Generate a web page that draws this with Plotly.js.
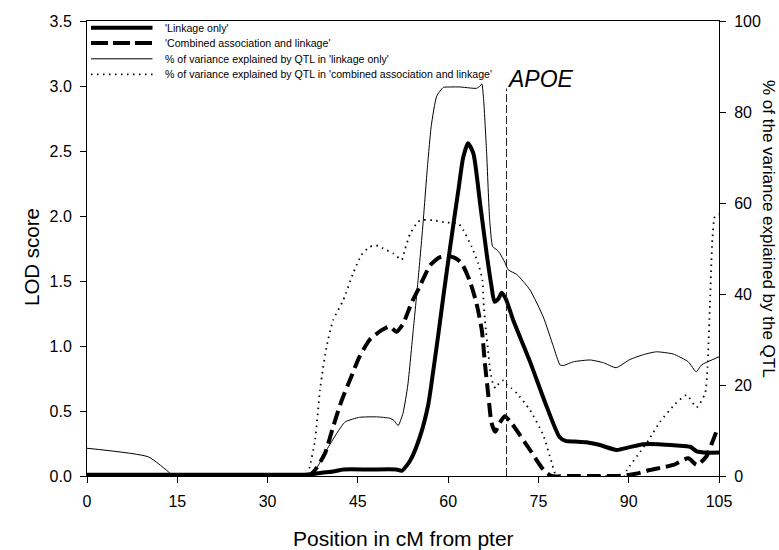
<!DOCTYPE html>
<html>
<head>
<meta charset="utf-8">
<script src="https://cdn.plot.ly/plotly-3.0.1.min.js"></script>
<style>html,body{margin:0;padding:0;background:#fff;}#chart{width:779px;height:550px;}</style>
</head>
<body>
<div id="chart"></div>
<script>
// ---- data ----
const linkPos = [0, 10, 20, 30, 36, 37.6, 39, 40.9, 42.6, 47, 51.4, 52.3, 53.7, 55.3, 56.7, 57.5, 58.4, 59.2, 60.3, 61.7, 62.5, 63.3, 64.2, 65.3, 66.4, 67.2, 67.7, 68.3, 68.9, 69.6, 70.8, 73.6, 76.4, 78.5, 79.5, 81, 83, 85.2, 88, 90, 92.4, 95, 98, 100.2, 101.3, 103, 105];
const linkLod = [0.01, 0.01, 0.01, 0.01, 0.01, 0.015, 0.025, 0.035, 0.05, 0.05, 0.05, 0.04, 0.12, 0.30, 0.55, 0.8, 1.1, 1.38, 1.75, 2.2, 2.45, 2.56, 2.48, 2.10, 1.71, 1.46, 1.34, 1.36, 1.41, 1.36, 1.2, 0.88, 0.53, 0.3, 0.27, 0.265, 0.26, 0.238, 0.2, 0.22, 0.244, 0.245, 0.235, 0.225, 0.19, 0.18, 0.18];

const combPos = [0, 20, 36.5, 37.6, 39.5, 40.9, 42.3, 43.7, 45.3, 47.0, 48.9, 50.3, 51.4, 52.5, 53.9, 55.3, 57.0, 58.5, 59.8, 61, 62.2, 63.6, 64.7, 65.6, 66.1, 66.7, 67.2, 67.8, 68.6, 69.4, 70.3, 71.4, 73.6, 75.8, 77.2, 80, 85, 88, 89.5, 91.5, 93.5, 95.5, 97.4, 99.9, 101.3, 102.9, 103.8, 104.8];
const combLod = [0, 0, 0, 0.03, 0.17, 0.38, 0.58, 0.74, 0.92, 1.05, 1.12, 1.15, 1.11, 1.17, 1.33, 1.46, 1.62, 1.68, 1.69, 1.68, 1.64, 1.50, 1.33, 1.12, 0.87, 0.61, 0.41, 0.34, 0.41, 0.46, 0.42, 0.35, 0.2, 0.05, 0.0, 0, 0, 0, 0.005, 0.02, 0.046, 0.065, 0.085, 0.136, 0.085, 0.15, 0.25, 0.37];

const varLinkPos = [0, 10.2, 13.8, 14.2, 30, 37, 37.6, 38.5, 39.8, 41.5, 42.9, 45.3, 48.1, 50.3, 51.0, 51.7, 52.5, 53.3, 54.2, 55.0, 55.8, 56.5, 57.2, 58.1, 59.2, 60.5, 62, 63.5, 64.7, 65.3, 65.6, 65.9, 66.4, 66.9, 67.4, 68.1, 68.6, 69.4, 70.0, 71.4, 73.6, 75.8, 77.5, 78.6, 79.2, 80.8, 83.6, 85.8, 87.9, 90.2, 92.5, 94.6, 97.4, 99.9, 101.2, 102.1, 105];
const varLinkPct = [6.1, 4.2, 0.6, 0, 0, 0, 0.7, 2.5, 5.7, 9.4, 11.9, 12.9, 13.0, 12.7, 12.2, 11.1, 13.8, 20, 32, 43, 55, 67, 77, 83.5, 85.4, 85.5, 85.5, 85.3, 85.2, 85.7, 86.2, 82.6, 70.9, 56.3, 50.4, 49.7, 48.9, 47, 45.3, 44.3, 40.9, 35, 28.4, 24.4, 24.3, 25.1, 25.5, 24.9, 23.8, 25.6, 26.7, 27.3, 26.8, 25.1, 22.9, 24.4, 26.2];

const varCombPos = [0, 20, 36.5, 37.0, 37.9, 38.7, 39.0, 39.8, 40.9, 42.6, 44.2, 45.6, 47.0, 48.4, 49.2, 50.9, 52.3, 52.8, 53.7, 55.0, 55.9, 57.5, 59.8, 61.7, 62.5, 63.9, 65.0, 65.7, 65.9, 66.2, 66.6, 67.0, 67.5, 67.9, 68.5, 69.2, 69.8, 70.5, 71.4, 73.6, 75.8, 77.2, 78.0, 85, 89.3, 89.7, 91.9, 93.3, 95.2, 97.7, 99.6, 101.3, 102.7, 103.1, 103.5, 103.9, 104.3, 105];
const varCombPct = [0, 0, 0, 2, 7.9, 18.9, 21.8, 28.4, 34.3, 38.7, 44.5, 48.6, 50.4, 50.6, 50, 48.9, 47.5, 49.7, 53.3, 55.9, 56.3, 56.2, 55.7, 55.5, 54.1, 50.4, 46.7, 43, 38, 33, 28, 23, 20, 19.3, 20.5, 21, 20, 19.3, 18.2, 14.5, 9, 3, 0, 0, 0, 1.3, 5.3, 7.9, 11.9, 15.8, 17.8, 15.1, 18.2, 24, 38, 52, 57, 57.5];

const apoePos = [69.7, 69.7];
const apoeLod = [0, 2.98];
const apoeLabel = 'APOE';

const xTicks = [0, 15, 30, 45, 60, 75, 90, 105];
const yTicks = [0, 0.5, 1.0, 1.5, 2.0, 2.5, 3.0, 3.5];
const y2Ticks = [0, 20, 40, 60, 80, 100];

const seriesNames = [
  "'Linkage only'",
  "'Combined association and linkage'",
  "% of variance explained by QTL in 'linkage only'",
  "% of variance explained by QTL in 'combined association and linkage'"
];
const xTitle = 'Position in cM from pter';
const yTitle = 'LOD score';
const y2Title = '% of the variance explained by the QTL';

// ---- styles ----
const FONT = 'Liberation Sans, Arial, Helvetica, sans-serif';
const styles = [
  {width: 4, dash: 'solid', smooth: 0.6},
  {width: 4, dash: '14px,6px', smooth: 0.6},
  {width: 1, dash: 'solid', smooth: 0.5},
  {width: 1.8, dash: '1.5px,4.5px', smooth: 0.5}
];

const traces = [
  {x: linkPos, y: linkLod, yaxis: 'y', name: seriesNames[0]},
  {x: combPos, y: combLod, yaxis: 'y', name: seriesNames[1]},
  {x: varLinkPos, y: varLinkPct, yaxis: 'y2', name: seriesNames[2]},
  {x: varCombPos, y: varCombPct, yaxis: 'y2', name: seriesNames[3]}
].map((t, i) => Object.assign(t, {
  type: 'scatter', mode: 'lines', showlegend: false, hoverinfo: 'skip',
  line: {color: '#000', width: styles[i].width, dash: styles[i].dash, shape: 'spline', smoothing: styles[i].smooth}
}));

traces.push({
  type: 'scatter', mode: 'lines', x: apoePos, y: apoeLod, yaxis: 'y',
  showlegend: false, hoverinfo: 'skip',
  line: {color: '#222', width: 1, dash: '8px,3px'}
});

// manual legend (paper coordinates inside the plot, top-left)
const legendRowsPx = [27.8, 43, 58.8, 74.3];
const plotTop = 21, plotH = 455, plotL = 87, plotW = 632;
const px2py = (py) => (plotTop + plotH - py) / plotH;
const px2px = (px) => (px - plotL) / plotW;
const shapes = [];
const annotations = [];
legendRowsPx.forEach((py, i) => {
  shapes.push({type: 'line', xref: 'paper', yref: 'paper',
    x0: px2px(91), x1: px2px(152.5), y0: px2py(py), y1: px2py(py),
    line: {color: '#000', width: styles[i].width, dash: i === 1 ? '17px,5px' : styles[i].dash}});
  annotations.push({xref: 'paper', yref: 'paper', x: px2px(163), y: px2py(py),
    xanchor: 'left', yanchor: 'middle', showarrow: false, text: seriesNames[i],
    font: {family: FONT, size: 10.6, color: '#000'}});
});

annotations.push({xref: 'x', yref: 'y', x: apoePos[1], y: apoeLod[1], xanchor: 'left', yanchor: 'bottom',
  showarrow: false, text: '<i>' + apoeLabel + '</i>', yshift: -5, xshift: -2,
  font: {family: FONT, size: 23, color: '#000'}});
annotations.push({xref: 'paper', yref: 'paper', x: 0.5, y: px2py(538), xanchor: 'center', yanchor: 'middle',
  showarrow: false, text: xTitle, font: {family: FONT, size: 21, color: '#000'}});
annotations.push({xref: 'paper', yref: 'paper', x: px2px(31), y: px2py(257), xanchor: 'center', yanchor: 'middle',
  showarrow: false, text: yTitle, textangle: -90, font: {family: FONT, size: 20.5, color: '#000'}});
annotations.push({xref: 'paper', yref: 'paper', x: px2px(769), y: px2py(229), xanchor: 'center', yanchor: 'middle',
  showarrow: false, text: y2Title, textangle: 90, font: {family: FONT, size: 17, color: '#000'}});

const axisCommon = {
  showgrid: false, zeroline: false, showline: true, linecolor: '#000', linewidth: 1,
  ticks: 'outside', ticklen: 6, tickwidth: 1, tickcolor: '#000',
  tickfont: {family: FONT, size: 16, color: '#000'}
};

const layout = {
  width: 779, height: 550,
  margin: {l: 87, r: 60, t: 21, b: 74, pad: 0},
  paper_bgcolor: '#fff', plot_bgcolor: '#fff',
  showlegend: false,
  xaxis: Object.assign({}, axisCommon, {range: [0, 105], tickvals: xTicks, ticktext: xTicks.map(String), mirror: true, ticklabelstandoff: 5}),
  yaxis: Object.assign({}, axisCommon, {range: [0, 3.5], tickvals: yTicks, ticktext: yTicks.map(v => v.toFixed(1)), ticklabelstandoff: 5}),
  yaxis2: Object.assign({}, axisCommon, {range: [0, 100], tickvals: y2Ticks, ticktext: y2Ticks.map(String), overlaying: 'y', side: 'right', ticklabelstandoff: 5}),
  shapes: shapes,
  annotations: annotations
};

Plotly.newPlot('chart', traces, layout, {staticPlot: true, displayModeBar: false});
</script>
</body>
</html>
